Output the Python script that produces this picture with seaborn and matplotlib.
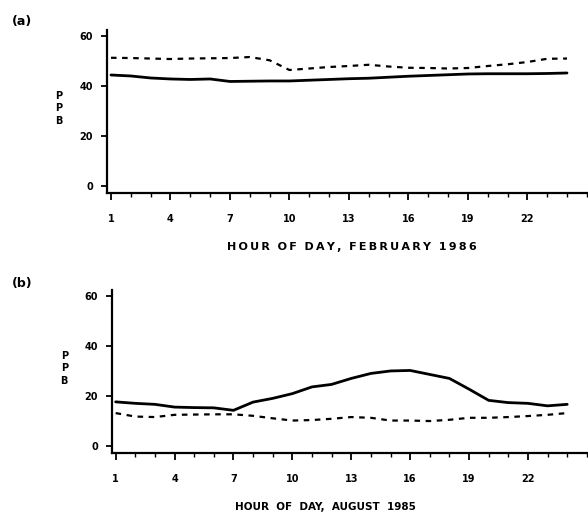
import numpy as np
import pandas as pd
import seaborn as sns
import matplotlib.pyplot as plt
from matplotlib.ticker import MultipleLocator

hours = list(range(1, 25))

# (a) February 1986
feb_solid = [44.4, 44.0, 43.2, 42.8, 42.6, 42.8, 41.8, 41.9, 42.0, 42.0, 42.3, 42.6,
             42.9, 43.1, 43.5, 43.9, 44.2, 44.5, 44.8, 44.9, 44.9, 44.9, 45.0, 45.2]
feb_dashed = [51.3, 51.2, 51.0, 50.8, 51.0, 51.1, 51.2, 51.6, 50.3, 46.4, 47.0, 47.6,
              48.0, 48.5, 47.8, 47.3, 47.2, 47.0, 47.2, 48.0, 48.7, 49.6, 50.9, 51.0]

# (b) August 1985
aug_solid = [17.6, 17.0, 16.6, 15.5, 15.3, 15.2, 14.2, 17.5, 19.0, 20.9, 23.6, 24.6,
             27.0, 29.0, 30.0, 30.2, 28.6, 27.0, 22.7, 18.2, 17.3, 17.0, 16.0, 16.6]
aug_dashed = [13.1, 11.7, 11.5, 12.4, 12.5, 12.6, 12.6, 12.0, 11.0, 10.1, 10.3, 10.8,
              11.5, 11.2, 10.1, 10.1, 9.9, 10.4, 11.2, 11.2, 11.5, 11.9, 12.4, 13.1]

panels = [
    ("(a)", "HOUR OF DAY, FEBRUARY 1986", feb_solid, feb_dashed),
    ("(b)", "HOUR OF DAY, AUGUST 1985", aug_solid, aug_dashed),
]


def spaced(s, letter_gap=True):
    # old typewriter-style label: wide letters, wide word gaps
    sep = "\u2009" if letter_gap else ""
    return "  ".join(sep.join(w) for w in s.split(" "))


sns.set_style("ticks")
plt.rcParams["font.family"] = ["DejaVu Sans"]
plt.rcParams["font.weight"] = "bold"
for key in ("text.color", "axes.labelcolor", "xtick.color", "ytick.color"):
    plt.rcParams[key] = "black"

fig = plt.figure(figsize=(5.88, 5.15), dpi=100)
axes_rects = [[0.182, 0.625, 0.816, 0.317], [0.190, 0.120, 0.808, 0.317]]
tag_y = [1 - 22 / 515, 1 - 284 / 515]
label_cfg = [(True, 8, 0.51), (False, 7.5, 0.45)]

for (tag, xlabel, solid, dashed), rect, ty, (lg, fs, lx) in zip(panels, axes_rects, tag_y, label_cfg):
    ax = fig.add_axes(rect)
    df = pd.DataFrame({"hour": hours, "solid": solid, "dashed": dashed})
    sns.lineplot(data=df, x="hour", y="solid", ax=ax, color="black", linewidth=2.0)
    sns.lineplot(data=df, x="hour", y="dashed", ax=ax, color="black", linewidth=1.6,
                 linestyle=(0, (2.5, 2.5)))

    ax.set_xlim(0.8, 25)
    ax.set_ylim(-3, 62.5)
    ax.set_xticks([1, 4, 7, 10, 13, 16, 19, 22])
    ax.xaxis.set_minor_locator(MultipleLocator(1))
    ax.set_yticks([0, 20, 40, 60])
    sns.despine(ax=ax)
    for sp in ("left", "bottom"):
        ax.spines[sp].set_linewidth(1.6)
        ax.spines[sp].set_color("black")
    ax.tick_params(axis="x", which="major", length=5, width=1.3, pad=10, labelsize=7)
    ax.tick_params(axis="x", which="minor", length=3, width=1.0)
    ax.tick_params(axis="y", which="major", length=4, width=1.3, pad=6, labelsize=7)
    for lab in ax.get_xticklabels() + ax.get_yticklabels():
        lab.set_fontweight("bold")

    ax.set_xlabel(spaced(xlabel, lg), fontsize=fs, fontweight="bold", labelpad=12)
    ax.xaxis.set_label_coords(lx, -0.30)
    ax.set_ylabel("")
    ax.text(-0.10, 0.52, "P\nP\nB", transform=ax.transAxes, fontsize=7,
            fontweight="bold", ha="center", va="center", linespacing=1.3)
    fig.text(12 / 588, ty, tag, fontsize=9, fontweight="bold", ha="left", va="center")

fig.savefig("out.png", dpi=100)
